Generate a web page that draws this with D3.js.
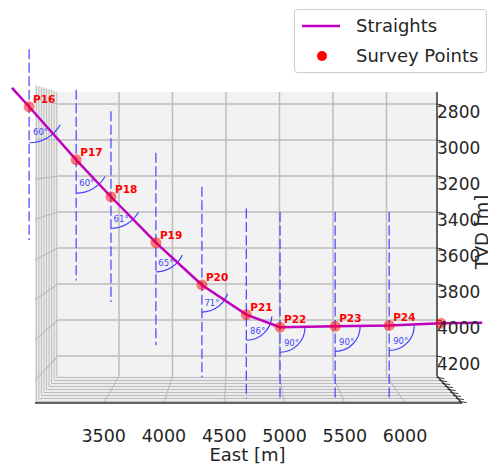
<!DOCTYPE html>
<html>
<head>
<meta charset="utf-8">
<script src="https://cdn.jsdelivr.net/npm/d3@7"></script>
<style>
  body { margin: 0; background: #fff; }
  svg { display: block; font-family: "DejaVu Sans", sans-serif; }
</style>
</head>
<body>
<div id="chart"></div>
<script>
// survey stations (East, TVD)
var surveyNames = ["P16", "P17", "P18", "P19", "P20", "P21", "P22", "P23", "P24"];
var surveyE   = [2660, 3100, 3425, 3845, 4275, 4690, 5005, 5520, 6025];
var surveyTVD = [2815, 3110, 3315, 3570, 3805, 3970, 4040, 4035, 4030];
var inclination = [60, 60, 61, 65, 71, 86, 90, 90, 90];
// vertical reference lines at each station
var dashTopTVD    = [2495, 2720, 2840, 3070, 3260, 3380, 3400, 3400, 3400];
var dashBottomTVD = [3555, 3780, 3900, 4140, 4320, 4435, 4430, 4430, 4430];
// last station, sitting on the axis edge (label hidden)
var edgeE = [6510], edgeTVD = [4018];
// straights polyline
var straightE   = [2500, 2660, 3100, 3425, 3845, 4275, 4690, 5005, 5520, 6025, 6510, 6895];
var straightTVD = [2710, 2815, 3110, 3315, 3570, 3805, 3970, 4040, 4035, 4030, 4018, 4015];
// axes
var eastTicks = [3500, 4000, 4500, 5000, 5500, 6000];
var tvdTicks = [2800, 3000, 3200, 3400, 3600, 3800, 4000, 4200];
var northTicks = [-400, -300, -200, -100, 0, 100, 200, 300, 400];
var eastLim = [2930, 6472], tvdLim = [2733, 4311], northLim = [-450, 450];

var width = 488, height = 464;
var svg = d3.select("#chart").append("svg")
    .attr("width", width).attr("height", height);

// back pane and front frame of the 3d box
var xBack = d3.scaleLinear().domain(eastLim).range([58, 437]);
var xFront = d3.scaleLinear().domain(eastLim).range([35, 462]);
var yBack = d3.scaleLinear().domain(tvdLim).range([92, 376]);
var yFront = d3.scaleLinear().domain(tvdLim).range([85, 403]);
var depth = d3.scaleLinear().domain(northLim).range([0, 1]);
var lerp = function(a, b, t) { return a + (b - a) * t; };

var paneFill = "#f2f2f2", gridCol = "#bdbdbd";
var panes = svg.append("g");
// back
panes.append("rect")
    .attr("x", xBack(eastLim[0])).attr("y", yBack(tvdLim[0]))
    .attr("width", xBack(eastLim[1]) - xBack(eastLim[0]))
    .attr("height", yBack(tvdLim[1]) - yBack(tvdLim[0]))
    .attr("fill", paneFill);
// left side
panes.append("polygon")
    .attr("points", [[xBack(eastLim[0]), yBack(tvdLim[0])], [xBack(eastLim[0]), yBack(tvdLim[1])],
                     [xFront(eastLim[0]), yFront(tvdLim[1])], [xFront(eastLim[0]), yFront(tvdLim[0])]].join(" "))
    .attr("fill", "#ececec");
// floor
panes.append("polygon")
    .attr("points", [[xBack(eastLim[0]), yBack(tvdLim[1])], [xBack(eastLim[1]), yBack(tvdLim[1])],
                     [xFront(eastLim[1]), yFront(tvdLim[1])], [xFront(eastLim[0]), yFront(tvdLim[1])]].join(" "))
    .attr("fill", "#ececec");

var grid = svg.append("g").attr("stroke", gridCol).attr("fill", "none");
// back grid
eastTicks.forEach(function(e) {
  grid.append("line").attr("stroke-width", 1.5)
      .attr("x1", xBack(e)).attr("x2", xBack(e))
      .attr("y1", yBack(tvdLim[0])).attr("y2", yBack(tvdLim[1]));
  grid.append("line").attr("stroke-width", 1.2)
      .attr("x1", xBack(e)).attr("y1", yBack(tvdLim[1]))
      .attr("x2", xFront(e)).attr("y2", yFront(tvdLim[1]));
});
tvdTicks.forEach(function(z) {
  grid.append("line").attr("stroke-width", 1.5)
      .attr("x1", xBack(eastLim[0])).attr("x2", xBack(eastLim[1]))
      .attr("y1", yBack(z)).attr("y2", yBack(z));
  grid.append("line").attr("stroke-width", 1.2)
      .attr("x1", xBack(eastLim[0])).attr("y1", yBack(z))
      .attr("x2", xFront(eastLim[0])).attr("y2", yFront(z));
});
// north grid, almost edge on
northTicks.forEach(function(n) {
  var t = depth(n);
  var xl = lerp(xBack(eastLim[0]), xFront(eastLim[0]), t);
  var xr = lerp(xBack(eastLim[1]), xFront(eastLim[1]), t);
  var yt = lerp(yBack(tvdLim[0]), yFront(tvdLim[0]), t);
  var yb = lerp(yBack(tvdLim[1]), yFront(tvdLim[1]), t);
  grid.append("polyline").attr("stroke-width", 1)
      .attr("points", [[xl, yt], [xl, yb], [xr, yb]].join(" "));
});

// axis lines
var axes = svg.append("g").attr("stroke", "#333").attr("fill", "none");
axes.append("line").attr("stroke-width", 1.5)
    .attr("x1", xFront(eastLim[0])).attr("x2", xFront(eastLim[1]))
    .attr("y1", yFront(tvdLim[1])).attr("y2", yFront(tvdLim[1]));
axes.append("line").attr("stroke-width", 1.5)
    .attr("x1", xBack(eastLim[1])).attr("x2", xBack(eastLim[1]))
    .attr("y1", yBack(tvdLim[0])).attr("y2", yBack(tvdLim[1]));
axes.append("line").attr("stroke-width", 1.2)
    .attr("x1", xBack(eastLim[1])).attr("y1", yBack(tvdLim[1]))
    .attr("x2", xFront(eastLim[1])).attr("y2", yFront(tvdLim[1]));
northTicks.forEach(function(n) {
  var t = depth(n);
  var x0 = lerp(xBack(eastLim[1]), xFront(eastLim[1]), t);
  var y0 = lerp(yBack(tvdLim[1]), yFront(tvdLim[1]), t);
  axes.append("line").attr("stroke-width", 1)
      .attr("x1", x0 - 2).attr("y1", y0).attr("x2", x0 + 6).attr("y2", y0 + 1);
});
tvdTicks.forEach(function(z) {
  axes.append("line").attr("stroke-width", 1)
      .attr("x1", xBack(eastLim[1])).attr("y1", yBack(z))
      .attr("x2", xBack(eastLim[1]) + 5).attr("y2", yBack(z) + 1);
});

// data
var plot = svg.append("g");
var blue = "#4343ff";
surveyE.forEach(function(e, i) {
  plot.append("line")
      .attr("x1", xBack(e)).attr("x2", xBack(e))
      .attr("y1", yBack(dashTopTVD[i])).attr("y2", yBack(dashBottomTVD[i]))
      .attr("stroke", blue)
      .attr("stroke-width", 1.2).attr("stroke-dasharray", "10,3.5");
});

var rScale = d3.scaleLinear().domain([2815, 4040]).range([36, 25]);
surveyE.forEach(function(e, i) {
  var cx = xBack(e), cy = yBack(surveyTVD[i]);
  var r = rScale(surveyTVD[i]);
  var th = inclination[i] * Math.PI / 180;
  var p = d3.path();
  p.moveTo(cx + r * Math.cos(Math.PI / 2 - th), cy + r * Math.sin(Math.PI / 2 - th));
  p.arc(cx, cy, r, Math.PI / 2 - th, Math.PI / 2, false);
  plot.append("path").attr("d", p.toString())
      .attr("fill", "none").attr("stroke", blue).attr("stroke-width", 1.2);
  var a = th * 0.4, rl = r * 0.78;
  plot.append("text")
      .attr("x", cx + rl * Math.sin(a)).attr("y", cy + rl * Math.cos(a))
      .attr("text-anchor", "middle").attr("dominant-baseline", "middle")
      .attr("font-size", 8.5).attr("fill", blue)
      .text(inclination[i] + "°");
});

var line = d3.line()
    .x(function(d) { return xBack(d[0]); })
    .y(function(d) { return yBack(d[1]); });
plot.append("path")
    .datum(d3.zip(straightE, straightTVD))
    .attr("d", line)
    .attr("fill", "none").attr("stroke", "#bf00bf").attr("stroke-width", 2.5);

plot.selectAll("circle.pt")
    .data(d3.zip(surveyE.concat(edgeE), surveyTVD.concat(edgeTVD)))
    .enter().append("circle")
    .attr("cx", function(d) { return xBack(d[0]); })
    .attr("cy", function(d) { return yBack(d[1]); })
    .attr("r", 5.5)
    .attr("fill", "red").attr("fill-opacity", 0.5);

surveyE.forEach(function(e, i) {
  plot.append("text")
      .attr("x", xBack(e) + 4).attr("y", yBack(surveyTVD[i]) - 4)
      .attr("font-size", 10.5).attr("font-weight", "bold").attr("fill", "red")
      .text(surveyNames[i]);
});

// tick labels
var labels = svg.append("g").attr("fill", "#262626");
eastTicks.forEach(function(e) {
  labels.append("text")
      .attr("x", xFront(e)).attr("y", 442)
      .attr("text-anchor", "middle").attr("font-size", 17.5)
      .text(e);
});
labels.append("text")
    .attr("x", (xBack(eastLim[0]) + xBack(eastLim[1])) / 2).attr("y", 461)
    .attr("text-anchor", "middle").attr("font-size", 18)
    .text("East [m]");
tvdTicks.forEach(function(z) {
  labels.append("text")
      .attr("x", xBack(eastLim[1])).attr("y", yBack(z) + 14)
      .attr("font-size", 17)
      .text(z);
});
labels.append("text")
    .attr("transform", "translate(488," + 232 + ") rotate(-90)")
    .attr("text-anchor", "middle").attr("font-size", 18)
    .text("TVD [m]");

// legend
var lg = svg.append("g");
lg.append("rect")
    .attr("x", 294.5).attr("y", 9.5).attr("width", 192).attr("height", 63).attr("rx", 3)
    .attr("fill", "white").attr("fill-opacity", 0.8)
    .attr("stroke", "#cccccc");
lg.append("line")
    .attr("x1", 302).attr("x2", 340).attr("y1", 26).attr("y2", 26)
    .attr("stroke", "#bf00bf").attr("stroke-width", 2.5);
lg.append("circle").attr("cx", 322).attr("cy", 56).attr("r", 5).attr("fill", "red");
lg.append("text").attr("x", 356).attr("y", 31.5).attr("font-size", 18).attr("fill", "#262626").text("Straights");
lg.append("text").attr("x", 356).attr("y", 62).attr("font-size", 18).attr("fill", "#262626").text("Survey Points");
</script>
</body>
</html>
